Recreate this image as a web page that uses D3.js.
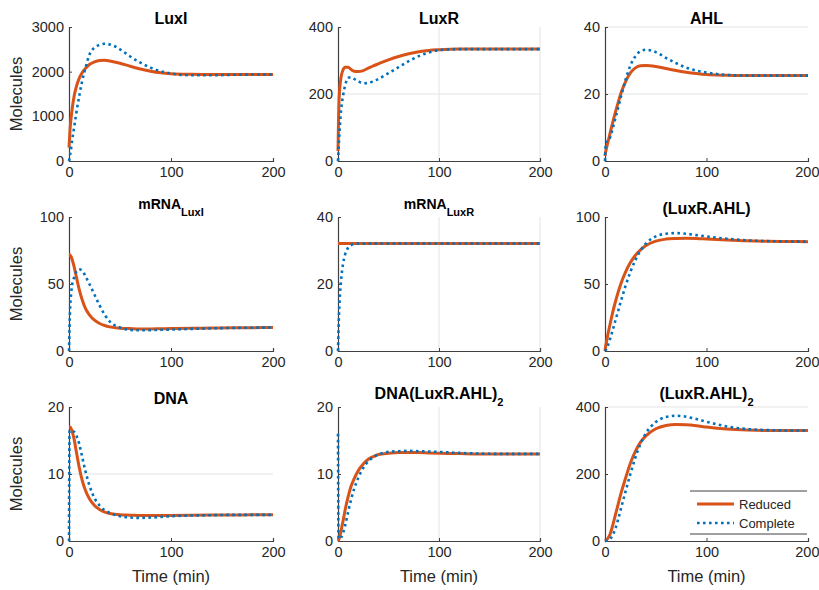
<!DOCTYPE html>
<html><head><meta charset="utf-8">
<script src="https://cdn.jsdelivr.net/npm/d3@7"></script>
<style>body{margin:0;background:#fff}svg{display:block;font-family:"Liberation Sans",Arial,sans-serif}</style>
</head><body>
<svg id="c" width="819" height="590"></svg>
<script>
const time = [0,0.5,1,2,3,5,7,10,13,16,20,25,30,35,40,50,60,70,80,90,100,120,140,160,180,200];
const titles = [["LuxI",""],["LuxR",""],["AHL",""],["mRNA","LuxI"],["mRNA","LuxR"],["(LuxR.AHL)",""],["DNA",""],["DNA(LuxR.AHL)","2"],["(LuxR.AHL)","2"]];
const yMax = [3000,400,40,100,40,100,20,20,400];
const yTicks = [[0,1000,2000,3000],[0,200,400],[0,20,40],[0,50,100],[0,20,40],[0,50,100],[0,10,20],[0,10,20],[0,200,400]];
const xTicks = [0,100,200];
const seriesNames = ["Reduced","Complete"];

const reducedLuxI = [300,500,700,950,1150,1450,1650,1850,1980,2070,2160,2220,2250,2255,2240,2190,2120,2060,2010,1975,1955,1940,1935,1935,1935,1935];
const completeLuxI = [0,60,130,270,450,750,1050,1450,1800,2070,2380,2540,2600,2625,2610,2500,2340,2200,2090,2010,1960,1920,1920,1930,1935,1935];
const reducedLuxR = [30,120,180,225,250,272,280,280,273,268,267,270,277,284,290,302,312,320,326,330,332,334,334,334,334,334];
const completeLuxR = [0,30,60,110,150,195,225,248,250,245,238,232,233,238,245,262,280,298,313,324,331,334,334,334,334,334];
const reducedAHL = [1.5,2.5,3.2,4.5,5.8,8.3,10.8,14.3,17.5,20.5,23.5,26.3,27.8,28.4,28.5,28.2,27.6,27,26.5,26.1,25.8,25.6,25.5,25.5,25.5,25.5];
const completeAHL = [0,4,5.5,5.8,6,7,9,12.5,16,19.5,24,28.5,31.3,32.8,33.2,32.5,30.8,29.2,27.9,27,26.4,25.7,25.5,25.5,25.5,25.5];
const reducedMrnaLuxI = [72,72,71.5,70.5,68.5,63,56,46,38,32,27,23,20.5,19,18,17,16.7,16.5,16.5,16.6,16.7,16.9,17.1,17.3,17.4,17.5];
const completeMrnaLuxI = [0,18,30,42,49,55,59,61,60,56,50,42,34,27,22,17.5,15.7,15.5,15.6,15.8,16,16.5,16.9,17.2,17.4,17.5];
const reducedMrnaLuxR = [32.1,32.1,32.1,32.1,32.1,32.1,32.1,32.1,32.1,32.1,32.1,32.1,32.1,32.1,32.1,32.1,32.1,32.1,32.1,32.1,32.1,32.1,32.1,32.1,32.1,32.1];
const completeMrnaLuxR = [0,6,11,17,21,26,28.8,30.8,31.6,31.9,32.05,32.1,32.1,32.1,32.1,32.1,32.1,32.1,32.1,32.1,32.1,32.1,32.1,32.1,32.1,32.1];
const reducedComplex = [0,3,5,9,13,20,27,36,44,51,58.5,66,71.5,75.5,78.5,82,83.5,84,84.2,84,83.6,82.8,82.2,81.9,81.7,81.6];
const completeComplex = [0,0.5,1,2.5,4.5,9,14,22,30,38,48,59,68,75,80,85.5,87.5,88,87.5,86.5,85.5,83.8,82.6,82,81.7,81.6];
const reducedDNA = [17,17,17,16.8,16.4,15.2,13.5,11,9,7.6,6.3,5.3,4.7,4.3,4.1,3.9,3.85,3.8,3.8,3.8,3.82,3.85,3.87,3.88,3.9,3.9];
const completeDNA = [0,16.5,16.5,16.4,16.4,16.3,15.8,14.5,12.5,10.5,8.3,6.4,5.3,4.6,4.2,3.7,3.5,3.45,3.5,3.6,3.7,3.8,3.85,3.9,3.9,3.9];
const reducedDNAbound = [0,0.1,0.3,0.8,1.5,3,4.6,6.6,8.2,9.3,10.5,11.5,12.2,12.6,12.9,13.1,13.2,13.2,13.2,13.15,13.1,13.05,13,13,13,13];
const completeDNAbound = [16,0.4,0.3,0.3,0.5,1.2,2.3,4.3,6.2,7.8,9.4,10.9,11.9,12.5,12.9,13.3,13.4,13.45,13.4,13.35,13.3,13.15,13.05,13,13,13];
const reducedDimer = [0,1,2,5,9,20,40,75,110,145,185,232,268,295,313,335,345,348,347,344,340,334,331,330,330,330];
const completeDimer = [0,0,0.5,1,2,6,14,35,65,100,145,200,250,290,320,355,370,374,371,364,356,342,334,331,330,330];

const reducedAll = [reducedLuxI,reducedLuxR,reducedAHL,reducedMrnaLuxI,reducedMrnaLuxR,reducedComplex,reducedDNA,reducedDNAbound,reducedDimer];
const completeAll = [completeLuxI,completeLuxR,completeAHL,completeMrnaLuxI,completeMrnaLuxR,completeComplex,completeDNA,completeDNAbound,completeDimer];

// layout / style
const colX = [[69,273],[338,540],[605,808]];
const rowY = [[27,161],[217,351],[407,541]];
const gridXv = [[],[100,200],[],[],[100,200],[],[],[100,200],[]];
const gridYv = [[],[200],[20,40],[],[],[],[10],[],[400]];
const titleSize = [16,16,16,14,14,16,16,16,16];
const cRed = "#D95319", cBlue = "#0072BD", txt = "#262626", axc = "#404040";

const svg = d3.select("#c");
for (let i = 0; i < 9; i++) {
  const r = Math.floor(i/3), c = i%3;
  const x = d3.scaleLinear().domain([0,200]).range(colX[c]);
  const y = d3.scaleLinear().domain([0,yMax[i]]).range([rowY[r][1], rowY[r][0]]);
  const g = svg.append("g");
  gridXv[i].forEach(v => g.append("line").attr("x1",x(v)).attr("x2",x(v)).attr("y1",y(0)).attr("y2",y(yMax[i])).attr("stroke","#e3e3e3").attr("stroke-width",1));
  gridYv[i].forEach(v => g.append("line").attr("x1",x(0)).attr("x2",x(200)).attr("y1",y(v)).attr("y2",y(v)).attr("stroke","#e3e3e3").attr("stroke-width",1));
  const ax = g.append("g").attr("transform",`translate(0,${y(0)})`).call(d3.axisBottom(x).tickValues(xTicks).tickSize(-3).tickPadding(6).tickFormat(d3.format("d")));
  const ay = g.append("g").attr("transform",`translate(${x(0)},0)`).call(d3.axisLeft(y).tickValues(yTicks[i]).tickSize(-3).tickPadding(5).tickFormat(d3.format("d")));
  [ax,ay].forEach(a => {
    a.select(".domain").attr("stroke",axc).attr("stroke-width",1.2);
    a.selectAll(".tick line").attr("stroke",axc);
    a.selectAll(".tick text").attr("fill",txt).style("font-size","14.5px").style("font-family","'Liberation Sans',Arial,sans-serif");
  });
  if (c === 2) ax.selectAll(".tick text").filter(d => d === 200).attr("text-anchor","end").attr("dx",11);
  const line = d3.line().x((d,k)=>x(time[k])).y(d=>y(d)).curve(d3.curveMonotoneX);
  g.append("path").attr("d",line(reducedAll[i])).attr("fill","none").attr("stroke",cRed).attr("stroke-width",3);
  g.append("path").attr("d",line(completeAll[i])).attr("fill","none").attr("stroke",cBlue).attr("stroke-width",2.6).attr("stroke-dasharray","2.6,3.4");
  const cx = (colX[c][0]+colX[c][1])/2;
  const hasSub = titles[i][1] !== "";
  const t = g.append("text").attr("x",cx).attr("y",rowY[r][0] - (hasSub?8:3)).attr("text-anchor","middle")
    .attr("font-weight","bold").attr("fill","#000").style("font-size",titleSize[i]+"px");
  t.append("tspan").text(titles[i][0]);
  if (hasSub) t.append("tspan").attr("dy",7).style("font-size","11px").text(titles[i][1]);
  if (c === 0) svg.append("text").attr("transform",`translate(22,${(rowY[r][0]+rowY[r][1])/2}) rotate(-90)`).attr("text-anchor","middle").attr("fill",txt).style("font-size","16.5px").text("Molecules");
  if (r === 2) svg.append("text").attr("x",cx).attr("y",582).attr("text-anchor","middle").attr("fill",txt).style("font-size","16.5px").text("Time (min)");
}
const lg = svg.append("g");
lg.append("rect").attr("x",690).attr("y",491).attr("width",117).attr("height",43).attr("fill","#fff");
lg.append("line").attr("x1",690).attr("x2",807).attr("y1",491).attr("y2",491).attr("stroke",axc).attr("stroke-width",1);
lg.append("line").attr("x1",690).attr("x2",807).attr("y1",534).attr("y2",534).attr("stroke",axc).attr("stroke-width",1);
seriesNames.forEach((n,k) => {
  const yy = 504 + k*19;
  lg.append("line").attr("x1",697).attr("x2",734).attr("y1",yy).attr("y2",yy).attr("stroke",k?cBlue:cRed).attr("stroke-width",k?2.6:3).attr("stroke-dasharray",k?"2.6,3.4":null);
  lg.append("text").attr("x",739).attr("y",yy+4.5).attr("fill",txt).style("font-size","13px").text(n);
});
</script>
</body></html>
